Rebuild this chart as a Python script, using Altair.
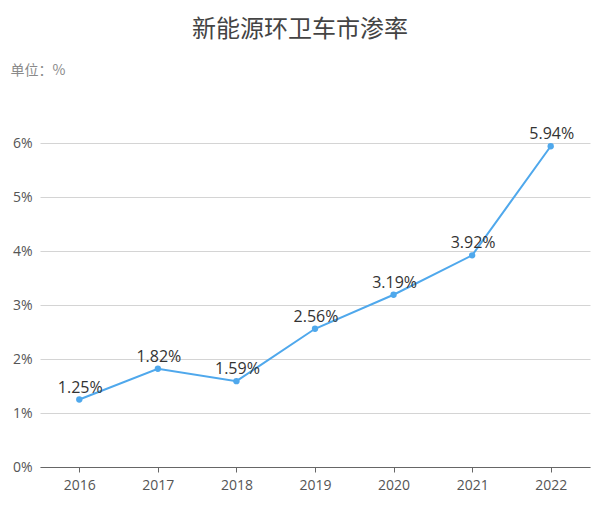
import altair as alt
import pandas as pd

years = ["2016", "2017", "2018", "2019", "2020", "2021", "2022"]
rates = [1.25, 1.82, 1.59, 2.56, 3.19, 3.92, 5.94]
labels = ["1.25%", "1.82%", "1.59%", "2.56%", "3.19%", "3.92%", "5.94%"]

df = pd.DataFrame({"year": years, "rate": rates, "label": labels})

FONT = "Open Sans"
CJK = "Noto Sans CJK SC"

x = alt.X("year:N", sort=years,
          scale=alt.Scale(paddingInner=0, paddingOuter=0.5),
          axis=alt.Axis(title=None, labelAngle=0, labelFont=FONT, labelFontSize=14,
                        labelColor="#555555", labelPadding=6, tickSize=5,
                        tickColor="#666666", domainColor="#666666", grid=False))
y = alt.Y("rate:Q", scale=alt.Scale(domain=[0, 6], nice=False),
          axis=alt.Axis(values=[0, 1, 2, 3, 4, 5, 6], labelExpr="datum.value + '%'",
                        labelFont=FONT, labelFontSize=14, labelColor="#555555",
                        labelPadding=8, ticks=False, domain=False,
                        gridColor="#d4d4d4", gridWidth=1,
                        title="单位：%", titleAngle=0, titleFont=CJK,
                        titleFontSize=14, titleFontWeight="normal", titleColor="#8a8a8a",
                        titleAlign="left", titleBaseline="middle", titleX=-30, titleY=-73))

base = alt.Chart(df).encode(x=x, y=y)
line = base.mark_line(color="#4fa8ec", strokeWidth=2)
pts = base.mark_point(filled=True, size=40, color="#4fa8ec", opacity=1)
txt = base.mark_text(baseline="bottom", dy=-4, dx=1, fontSize=16, font=FONT,
                     color="#333333").encode(text="label:N")

chart = alt.layer(line, pts, txt).properties(
    width=550, height=324,
    autosize=alt.AutoSizeParams(type="none"),
    title=alt.TitleParams("新能源环卫车市渗率", font=CJK, fontSize=24,
                          fontWeight="normal", color="#444444", anchor="middle",
                          frame="bounds", offset=21),
    padding={"left": 32, "top": 135, "right": 3, "bottom": 30},
).configure_view(stroke=None)

chart.save("out.html", embed_options={"renderer": "svg", "actions": False})
